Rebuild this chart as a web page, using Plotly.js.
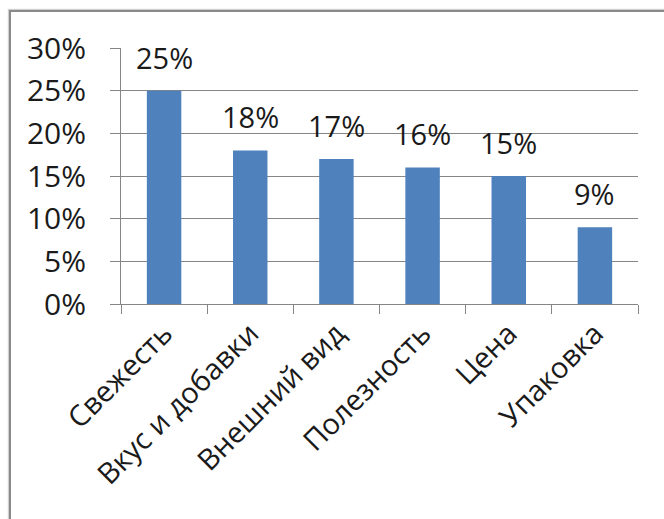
<!DOCTYPE html>
<html><head><meta charset="utf-8">
<script src="https://cdn.plot.ly/plotly-3.0.1.min.js"></script>
<style>
html,body{margin:0;padding:0;background:#fff;overflow:hidden;}
#chart{width:664px;height:519px;}
#frame{position:absolute;left:9px;top:10px;width:700px;height:600px;border-top:2px solid #8a8a8a;border-left:2px solid #8a8a8a;pointer-events:none;box-shadow:-1px -1px 1px #d0d0d0;}
</style></head>
<body>
<div id="chart"></div>
<div id="frame"></div>
<script>
const categories = ["Свежесть", "Вкус и добавки", "Внешний вид", "Полезность", "Цена", "Упаковка"];
const values = [0.25, 0.18, 0.17, 0.16, 0.15, 0.09];
const valueLabels = ["25%", "18%", "17%", "16%", "15%", "9%"];
const yTickVals = [0, 0.05, 0.10, 0.15, 0.20, 0.25, 0.30];
const yTickText = ["0%", "5%", "10%", "15%", "20%", "25%", "30%"];

const font = "'Open Sans', 'Noto Sans', sans-serif";
const annotations = categories.map((c, i) => ({
  x: c, y: values[i], xref: "x", yref: "y",
  text: valueLabels[i], showarrow: false,
  yanchor: "bottom", yshift: 12,
  font: {family: font, size: 29, color: "#1a1a1a"}
}));
Plotly.newPlot("chart", [{
  type: "bar",
  x: categories,
  y: values,
  marker: {color: "#4f81bd"},
  hoverinfo: "none"
}], {
  width: 664, height: 519,
  margin: {l: 121, r: 26, t: 48, b: 215},
  paper_bgcolor: "#fff", plot_bgcolor: "#fff",
  bargap: 0.6,
  showlegend: false,
  annotations: annotations,
  font: {family: font, size: 27, color: "#1a1a1a"},
  xaxis: {
    tickangle: -45,
    tickson: "boundaries",
    ticks: "outside", ticklen: 9, tickcolor: "#868686", tickwidth: 1,
    showline: true, linecolor: "#868686", linewidth: 1,
    showgrid: false, zeroline: false,
    tickfont: {family: font, size: 29, color: "#1a1a1a"},
    fixedrange: true
  },
  yaxis: {
    range: [0, 0.30],
    tickvals: yTickVals, ticktext: yTickText,
    ticks: "outside", ticklen: 10, tickcolor: "#868686", tickwidth: 1,
    showline: true, linecolor: "#868686", linewidth: 1,
    showgrid: true, gridcolor: "#868686", gridwidth: 1,
    zeroline: false,
    tickfont: {family: font, size: 30, color: "#1a1a1a"},
    ticklabelstandoff: 18,
    fixedrange: true
  }
}, {displayModeBar: false, staticPlot: true});
</script>
</body></html>
